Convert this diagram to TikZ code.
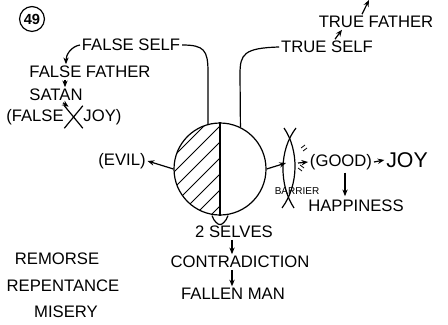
\documentclass[tikz,border=0pt]{standalone}
\usepackage{fontspec}
\setmainfont{Liberation Sans}
\usetikzlibrary{arrows.meta, positioning, calc, shapes.misc}

\begin{document}
\begin{tikzpicture}[x=0.75pt, y=-0.75pt, line width=0.9pt,
    hand/.style={font=\fontsize{12.5}{14}\selectfont, inner sep=1pt},
    tiny/.style={font=\fontsize{7.5}{9}\selectfont, inner sep=0pt},
    arr/.style={-{Stealth[length=5pt, width=4pt]}}]
    \useasboundingbox (0,0) rectangle (448,324);

    % labels
    \node[circle, draw, inner sep=1.5pt, font=\bfseries\fontsize{11}{13}\selectfont] (num) at (32,19) {49};
    \node[hand] (tf) at (376,22) {TRUE FATHER};
    \node[hand] (ts) at (327,47) {TRUE SELF};
    \node[hand] (fs) at (131,45) {FALSE SELF};
    \node[hand] (ff) at (90,72) {FALSE FATHER};
    \node[hand] (sat) at (56,95) {SATAN};
    \node[hand] (fj1) at (35,117) {(FALSE};
    \node[cross out, draw, minimum width=13pt, minimum height=16pt, right=-1pt of fj1] (xx) {};
    \node[hand, right=-1pt of xx] (fj2) {JOY)};
    \node[circle, draw, minimum size=69pt, inner sep=0pt] (c) at (220,169) {};
    \node[hand] (ev) at (122,161) {(EVIL)};
    \node[hand] (good) at (341,162) {(GOOD)};
    \node[hand, font=\fontsize{16}{18}\selectfont] (joy) at (407,160) {JOY};
    \node[hand] (hap) at (356,206) {HAPPINESS};
    \node[tiny] (bar) at (297,191) {BARRIER};
    \node[hand] (selves) at (234,232) {2 SELVES};
    \node[hand] (contra) at (240,262) {CONTRADICTION};
    \node[hand] (fallen) at (233,294) {FALLEN MAN};
    \node[hand] (rem) at (57,259) {REMORSE};
    \node[hand] (rep) at (63,286) {REPENTANCE};
    \node[hand] (mis) at (66,312) {MISERY};
    \coordinate (top) at (369,0);
    \coordinate (barL) at (286,163);
    \coordinate (barR) at (298,163);

    % hatched half
    \begin{scope}
        \clip (c.center) circle[radius=46];
        \clip (170,120) rectangle (220,220);
        \foreach \i in {-60,-44,...,220}
            \draw[line width=0.6pt] (\i,230) -- ++(120,-120);
    \end{scope}
    \draw (c.north) -- (c.south);

    % selves
    \draw (fs.east) .. controls (204,45) and (208,50) .. (208,72) -- (c.105);
    \draw (ts.west) .. controls (244,48) and (240,54) .. (240,74) -- (c.64);
    \draw[arr] (fs.west) to[out=190, in=90] ($(ff.north)+(-24,0)$);
    \draw[arr] ($(ff.south)+(-25,0)$) -- ($(sat.north)+(9,0)$);
    \draw[arr] ($(sat.south)+(7,0)$) -- ($(xx.north)+(-5,1)$);
    \draw[arr] ($(ts.north)+(8,0)$) -- ($(tf.south)+(-34,0)$);
    \draw[arr] ($(tf.north)+(-14,0)$) -- (top);

    % left and right
    \draw[arr] (c.west) -- (ev.east);
    \draw[arr] (c.east) -- (barL);
    \draw (284,128) .. controls (299,150) and (299,185) .. (282,208);
    \draw (296,128) .. controls (279,150) and (279,185) .. (294,208);
    \draw[line width=0.6pt] (301,148) -- (305,145) (303,151) -- (307,148);
    \draw[line width=0.6pt] (298,168) -- (302,171) (300,165) -- (304,168);
    \draw[arr] (barR) -- (good.west);
    \draw[arr] (good.east) -- (joy.west);
    \draw[arr] ($(good.south)+(4,1)$) -- ($(hap.north)+(-11,-2)$);

    % down
    \draw ($(c.south)+(-8,0)$) .. controls ($(c.south)+(-6,6)$) and ($(c.south)+(-2,9)$) .. ($(c.south)+(0,9)$)
        .. controls ($(c.south)+(2,9)$) and ($(c.south)+(6,6)$) .. ($(c.south)+(8,0)$);
    \draw[arr] ($(selves.south)+(-2,0)$) -- ($(contra.north)+(-8,0)$);
    \draw[arr] ($(contra.south)+(-8,0)$) -- ($(fallen.north)+(-1,0)$);
\end{tikzpicture}
\end{document}
